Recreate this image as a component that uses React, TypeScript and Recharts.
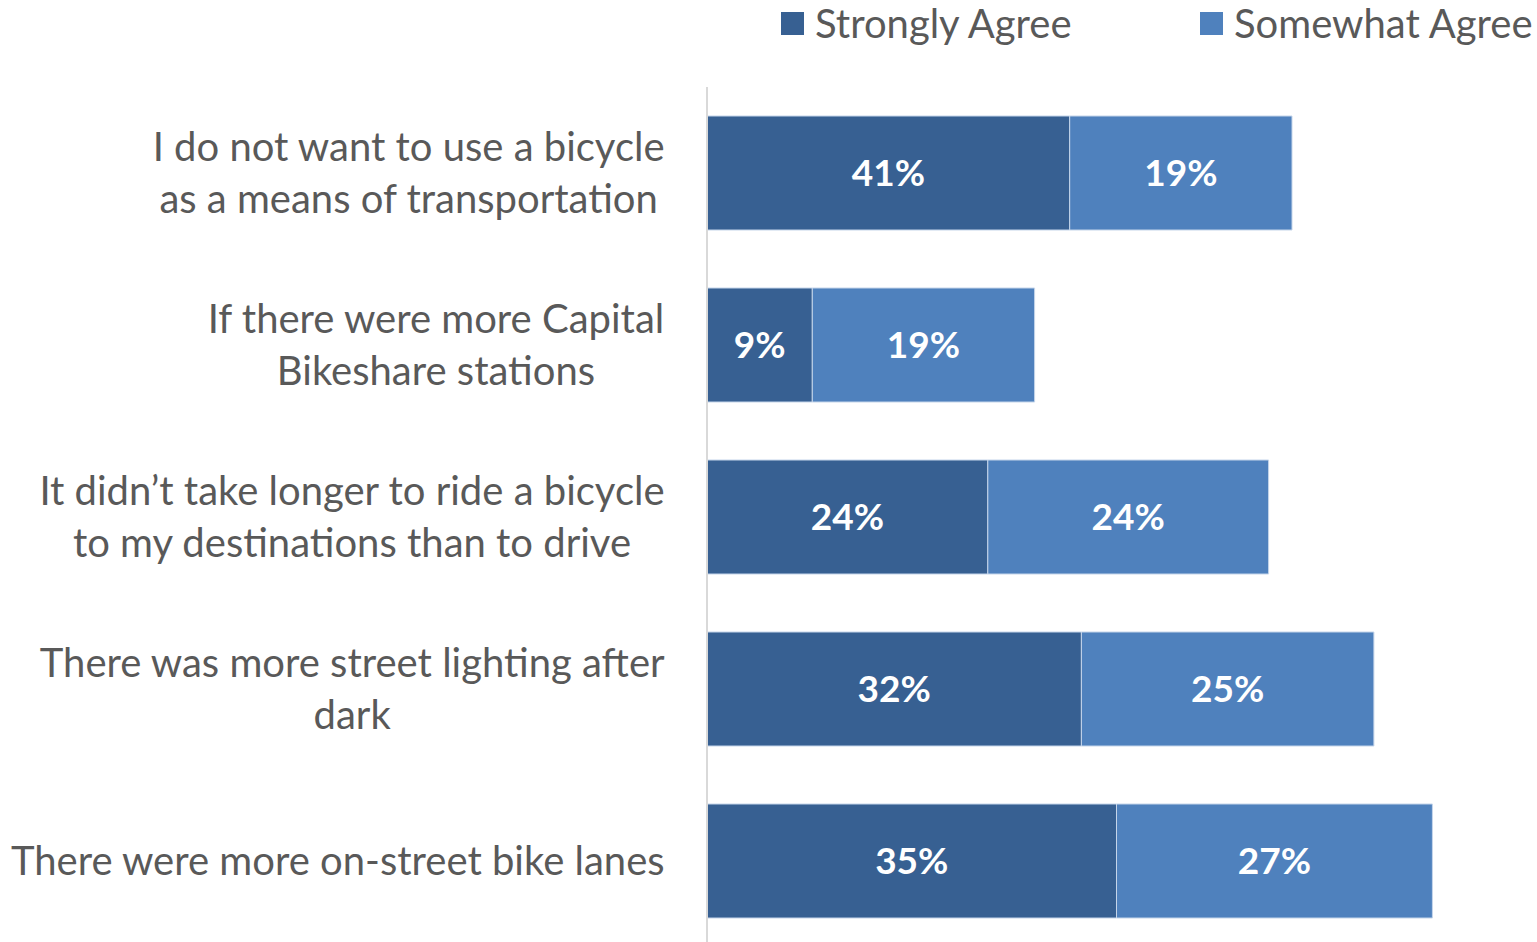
import { BarChart, Bar, XAxis, YAxis, Legend, LabelList } from 'recharts';

const categories = [
  'I do not want to use a bicycle\nas a means of transportation',
  'If there were more Capital\nBikeshare stations',
  'It didn’t take longer to ride a bicycle\nto my destinations than to drive',
  'There was more street lighting after\ndark',
  'There were more on-street bike lanes',
];
const stronglyAgree = [31, 9, 24, 32, 35];
const somewhatAgree = [19, 19, 24, 25, 27];
const stronglyLabels = ['41%', '9%', '24%', '32%', '35%'];
const somewhatLabels = ['19%', '19%', '24%', '25%', '27%'];

const data = categories.map((name, i) => ({
  name,
  strong: stronglyAgree[i],
  somewhat: somewhatAgree[i],
  strongLabel: stronglyLabels[i],
  somewhatLabel: somewhatLabels[i],
}));

const DARK = '#376092';
const LIGHT = '#4f81bd';
const TEXT = '#595959';
const FONT = 'Lato, "Open Sans", sans-serif';
const TICK_SIZE = 40;

let ctx: CanvasRenderingContext2D | null = null;
function measure(s: string, size: number) {
  if (!ctx) ctx = document.createElement('canvas').getContext('2d');
  if (!ctx) return s.length * size * 0.5;
  ctx.font = `${size}px Lato`;
  return ctx.measureText(s).width;
}

function CategoryTick(props: any) {
  const { x, y, payload } = props;
  const lines = String(payload.value).split('\n');
  const maxW = Math.max(...lines.map((l) => measure(l, TICK_SIZE)));
  const cx = x - maxW / 2;
  const lh = 52;
  const y0 = y - ((lines.length - 1) * lh) / 2;
  return (
    <text textAnchor="middle" fill={TEXT} fontSize={TICK_SIZE} fontFamily={FONT}>
      {lines.map((l, i) => (
        <tspan key={i} x={cx} y={y0 + i * lh} dy="0.35em">
          {l}
        </tspan>
      ))}
    </text>
  );
}

function LegendContent() {
  const items = [
    { label: 'Strongly Agree', color: DARK, left: 781 },
    { label: 'Somewhat Agree', color: LIGHT, left: 1200 },
  ];
  return (
    <div style={{ position: 'relative', height: 50 }}>
      {items.map((it) => (
        <div
          key={it.label}
          style={{ position: 'absolute', left: it.left, top: 1, display: 'flex', alignItems: 'center', whiteSpace: 'nowrap' }}
        >
          <span style={{ width: 23, height: 23, background: it.color, display: 'inline-block', marginRight: 11 }} />
          <span style={{ color: TEXT, fontSize: TICK_SIZE, fontFamily: FONT, lineHeight: '44px' }}>{it.label}</span>
        </div>
      ))}
    </div>
  );
}

export default function App() {
  return (
    <div style={{ position: 'fixed', left: 0, top: 0, width: 1537, height: 942, overflow: 'hidden', background: '#fff' }}>
      <BarChart
        width={1537}
        height={960}
        data={data}
        layout="vertical"
        margin={{ top: 37, right: 11, left: 0, bottom: 13 }}
      >
        <XAxis type="number" domain={[0, 70]} hide />
        <YAxis
          type="category"
          dataKey="name"
          width={707}
          axisLine={{ stroke: '#d9d9d9', strokeWidth: 2 }}
          tickLine={false}
          tickSize={0}
          tickMargin={42}
          tick={<CategoryTick />}
          interval={0}
        />
        <Legend
          verticalAlign="top"
          content={<LegendContent />}
          wrapperStyle={{ position: 'absolute', top: 0, left: 0, width: 1537 }}
        />
        <Bar dataKey="strong" stackId="a" fill={DARK} stroke="#c5d5ea" strokeWidth={1} barSize={114} isAnimationActive={false}>
          <LabelList dataKey="strongLabel" position="center" fill="#fff" fontSize={37} fontWeight={700} fontFamily={FONT} />
        </Bar>
        <Bar dataKey="somewhat" stackId="a" fill={LIGHT} stroke="#c5d5ea" strokeWidth={1} barSize={114} isAnimationActive={false}>
          <LabelList dataKey="somewhatLabel" position="center" fill="#fff" fontSize={37} fontWeight={700} fontFamily={FONT} />
        </Bar>
      </BarChart>
    </div>
  );
}
